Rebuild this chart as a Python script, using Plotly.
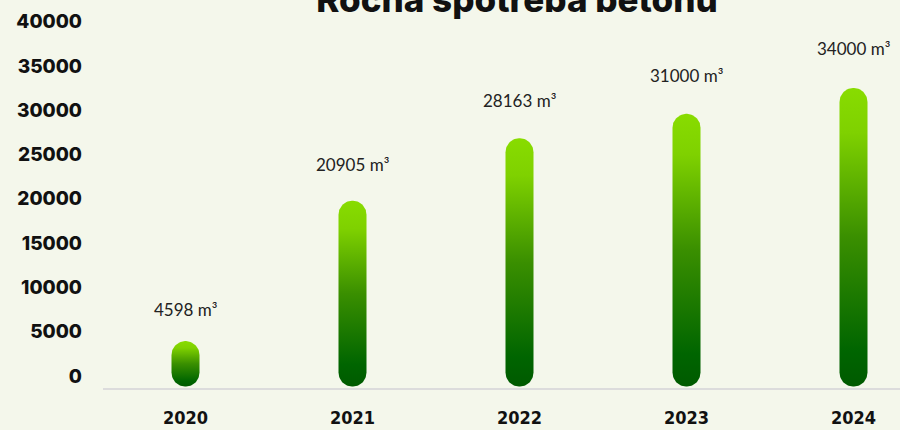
import numpy as np
import plotly.graph_objects as go

# ---- data ----
years = ["2020", "2021", "2022", "2023", "2024"]
values = [4598, 20905, 28163, 31000, 34000]
value_labels = ["4598 m³", "20905 m³", "28163 m³", "31000 m³", "34000 m³"]
y_ticks = [0, 5000, 10000, 15000, 20000, 25000, 30000, 35000, 40000]
title_text = "Ročná spotreba betónu"

# ---- layout constants ----
W, H = 900, 430
ML, MR, MT, MB = 103, 0, 10, 42
plot_w = W - ML - MR
plot_h = H - MT - MB
px_per_cat = 167.0
x_min = -82.5 / px_per_cat
x_max = x_min + plot_w / px_per_cat
px_per_unit = 8.607 / 1000.0          # bar axis scale
y_min = -7.4 / px_per_unit
y_max = y_min + plot_h / px_per_unit
px_per_unit2 = 8.86 / 1000.0          # tick-label axis scale
y2_min = -12.0 / px_per_unit2
y2_max = y2_min + plot_h / px_per_unit2

bg = "#f4f7eb"
bar_half_px = 14.0
base_px = 6.0

dx = 1.0 / px_per_cat       # data units per pixel (x)
dy = 1.0 / px_per_unit      # data units per pixel (y)

fig = go.Figure()
scale = [[0.0, "#005a00"], [0.12, "#006500"], [0.5, "#3a8f00"],
         [0.85, "#7fd100"], [1.0, "#88dc00"]]

for i, v in enumerate(values):
    xc = i
    r = bar_half_px
    top_c = v - r * dy
    bot_c = -base_px * dy + r * dy
    t1 = np.linspace(0, np.pi, 40)
    xs_top = xc + r * dx * np.cos(t1)
    ys_top = top_c + r * dy * np.sin(t1)
    t2 = np.linspace(np.pi, 2 * np.pi, 40)
    xs_bot = xc + r * dx * np.cos(t2)
    ys_bot = bot_c + r * dy * np.sin(t2)
    xs = np.concatenate([xs_top, xs_bot, xs_top[:1]])
    ys = np.concatenate([ys_top, ys_bot, ys_top[:1]])
    fig.add_trace(go.Scatter(
        x=xs, y=ys, mode="lines", fill="toself",
        line=dict(width=0, color="rgba(0,0,0,0)"),
        fillgradient=dict(type="vertical", colorscale=scale),
        hoverinfo="skip", showlegend=False,
    ))

# invisible trace on y2 so that axis exists
fig.add_trace(go.Scatter(x=[0], y=[0], yaxis="y2", mode="markers",
                         marker=dict(opacity=0), hoverinfo="skip", showlegend=False))

for i, (v, lab) in enumerate(zip(values, value_labels)):
    fig.add_annotation(x=i, y=v, xref="x", yref="y2", text=lab, showarrow=False,
                       yshift=26, font=dict(family="Lato", size=17, color="#222222"))

fig.update_layout(
    width=W, height=H,
    margin=dict(l=ML, r=MR, t=MT, b=MB, autoexpand=False),
    paper_bgcolor=bg, plot_bgcolor=bg,
    title=dict(text=title_text, x=517 / W, xref="container", xanchor="center",
               y=1.0, yref="container", yanchor="middle", automargin=False,
               font=dict(family="Inter", size=35, weight=800, color="#111111")),
    xaxis=dict(range=[x_min, x_max], tickmode="array", tickvals=list(range(len(years))),
               ticktext=years, showgrid=False, zeroline=False, automargin=False,
               showline=True, linecolor="#dcdcdc", linewidth=2,
               ticks="", ticklabelstandoff=12,
               tickfont=dict(family="Liberation Sans Narrow, DejaVu Sans Condensed, Roboto, sans-serif",
                             size=18, weight=700, color="#111111")),
    yaxis=dict(range=[y_min, y_max], showticklabels=False, showgrid=False, automargin=False,
               zeroline=False, showline=False, ticks=""),
    yaxis2=dict(range=[y2_min, y2_max], overlaying="y", side="left", automargin=False,
                tickmode="array", tickvals=y_ticks, ticktext=[str(t) for t in y_ticks],
                showgrid=False, zeroline=False, showline=False, ticks="",
                ticklabelstandoff=20,
                tickfont=dict(family="Inter", size=19, weight=800, color="#111111")),
    showlegend=False,
)

fig.write_html("out.html", config={"displayModeBar": False},
               post_script="document.body.style.margin='0';document.body.style.overflow='hidden';")
